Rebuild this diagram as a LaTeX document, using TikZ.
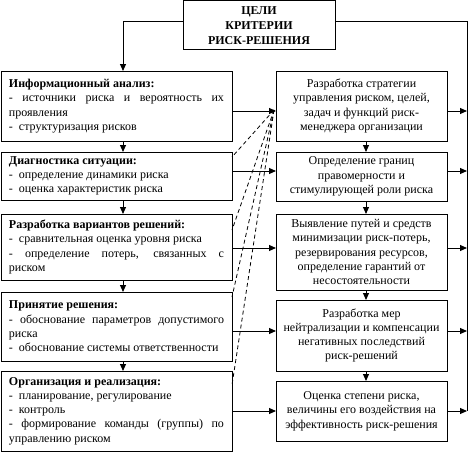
\documentclass[tikz,border=0pt]{standalone}
\usepackage{fontspec}
\setmainfont{Liberation Serif}
\usetikzlibrary{arrows.meta}
\begin{document}
\begin{tikzpicture}[x=1pt,y=-1pt,
  every node/.style={font=\fontsize{12}{14.3}\selectfont},
  box/.style={draw, line width=1pt, inner sep=0pt, outer sep=0pt, anchor=north west},
  lbox/.style={box, text width=215pt, inner xsep=8pt, align=justify,
    font={\fontsize{12}{14.3}\selectfont\hyphenpenalty=10000 }},
  rbox/.style={box, align=center, minimum width=171pt},
  tbox/.style={box, align=center, minimum width=152pt, minimum height=49pt,
    font={\fontsize{12}{15}\selectfont\bfseries}},
  arr/.style={line width=1pt, -{Triangle[length=7pt,width=6pt]}},
  ln/.style={line width=1pt},
  dsh/.style={line width=0.8pt, dash pattern=on 4pt off 3pt}
]
\useasboundingbox (0,0) rectangle (468,452);

\node[tbox] (top) at (183,1) {ЦЕЛИ\\КРИТЕРИИ\\РИСК-РЕШЕНИЯ};

\node[lbox, minimum height=70pt] (L1) at (1,71)
 {{\bfseries Информационный анализ:}\\
  - источники риска и вероятность их\linebreak проявления\\
  -\enspace структуризация рисков};
\node[lbox, minimum height=48pt] (L2) at (1,152)
 {{\bfseries Диагностика ситуации:}\\
  -\enspace определение динамики риска\\
  -\enspace оценка характеристик риска};
\node[lbox, minimum height=66pt] (L3) at (1,214)
 {{\bfseries Разработка вариантов решений:}\\
  -\enspace сравнительная оценка уровня риска\\
  - определение потерь, связанных с\linebreak риском};
\node[lbox, minimum height=69pt] (L4) at (1,292)
 {{\bfseries Принятие решения:}\\
  - обоснование параметров допустимого\linebreak риска\\
  -\enspace обоснование системы ответственности};
\node[lbox, minimum height=80pt] (L5) at (1,371)
 {{\bfseries Организация и реализация:}\\
  -\enspace планирование, регулирование\\
  -\enspace контроль\\
  - формирование команды (группы) по\linebreak управлению риском};

\node[rbox, minimum height=70pt] (R1) at (276,71)
 {Разработка стратегии\\управления риском, целей,\\задач и функций риск-\\менеджера организации};
\node[rbox, minimum height=49pt] (R2) at (276,152)
 {Определение границ\\правомерности и\\стимулирующей роли риска};
\node[rbox, minimum height=76pt] (R3) at (276,214)
 {Выявление путей и средств\\минимизации риск-потерь,\\резервирования ресурсов,\\определение гарантий от\\несостоятельности};
\node[rbox, minimum height=71pt] (R4) at (276,300)
 {Разработка мер\\нейтрализации и компенсации\\негативных последствий\\риск-решений};
\node[rbox, minimum height=60pt] (R5) at (276,381)
 {Оценка степени риска,\\величины его воздействия на\\эффективность риск-решения};

\coordinate (rline) at (467,411);

% top connectors
\draw[arr] ([yshift=3.5pt]top.west) -| (L1.north -| 123,0);
\draw[ln] ([yshift=3.5pt]top.east) -| (rline);

% left column
\draw[arr] (L1.south -| 123,0) -- (L2.north -| 123,0);
\draw[arr] (L2.south -| 123,0) -- (L3.north -| 123,0);
\draw[arr] (L3.south -| 123,0) -- (L4.north -| 123,0);
\draw[arr] (L4.south -| 123,0) -- (L5.north -| 123,0);

% right column
\draw[arr] (R1.south -| 366,0) -- (R2.north -| 366,0);
\draw[arr] (R2.south -| 366,0) -- (R3.north -| 366,0);
\draw[arr] (R3.south -| 366,0) -- (R4.north -| 366,0);
\draw[arr] (R4.south -| 366,0) -- (R5.north -| 366,0);

% horizontal left -> right
\draw[arr] (L1.east |- 0,111) -- (R1.west |- 0,111);
\draw[arr] (L2.east |- 0,171) -- (R2.west |- 0,171);
\draw[arr] (L3.east |- 0,248) -- (R3.west |- 0,248);
\draw[arr] (L4.east |- 0,331) -- (R4.west |- 0,331);
\draw[arr] (L5.east |- 0,411) -- (R5.west |- 0,411);

% right boxes -> right line
\draw[arr] (R1.east |- 0,111) -- (rline |- 0,111);
\draw[arr] (R2.east |- 0,171) -- (rline |- 0,171);
\draw[arr] (R3.east |- 0,248) -- (rline |- 0,248);
\draw[arr] (R4.east |- 0,331) -- (rline |- 0,331);
\draw[arr] (R5.east |- 0,411) -- (rline |- 0,411);

% dashed links
\coordinate (hub) at ([xshift=-2pt]R1.west |- 0,110);
\draw[dsh] (hub) -- (L2.east |- 0,157);
\draw[dsh] (hub) -- (L3.east |- 0,230);
\draw[dsh] (hub) -- (L4.east |- 0,297);
\draw[dsh] (hub) -- (L5.east |- 0,385);
\end{tikzpicture}
\end{document}
